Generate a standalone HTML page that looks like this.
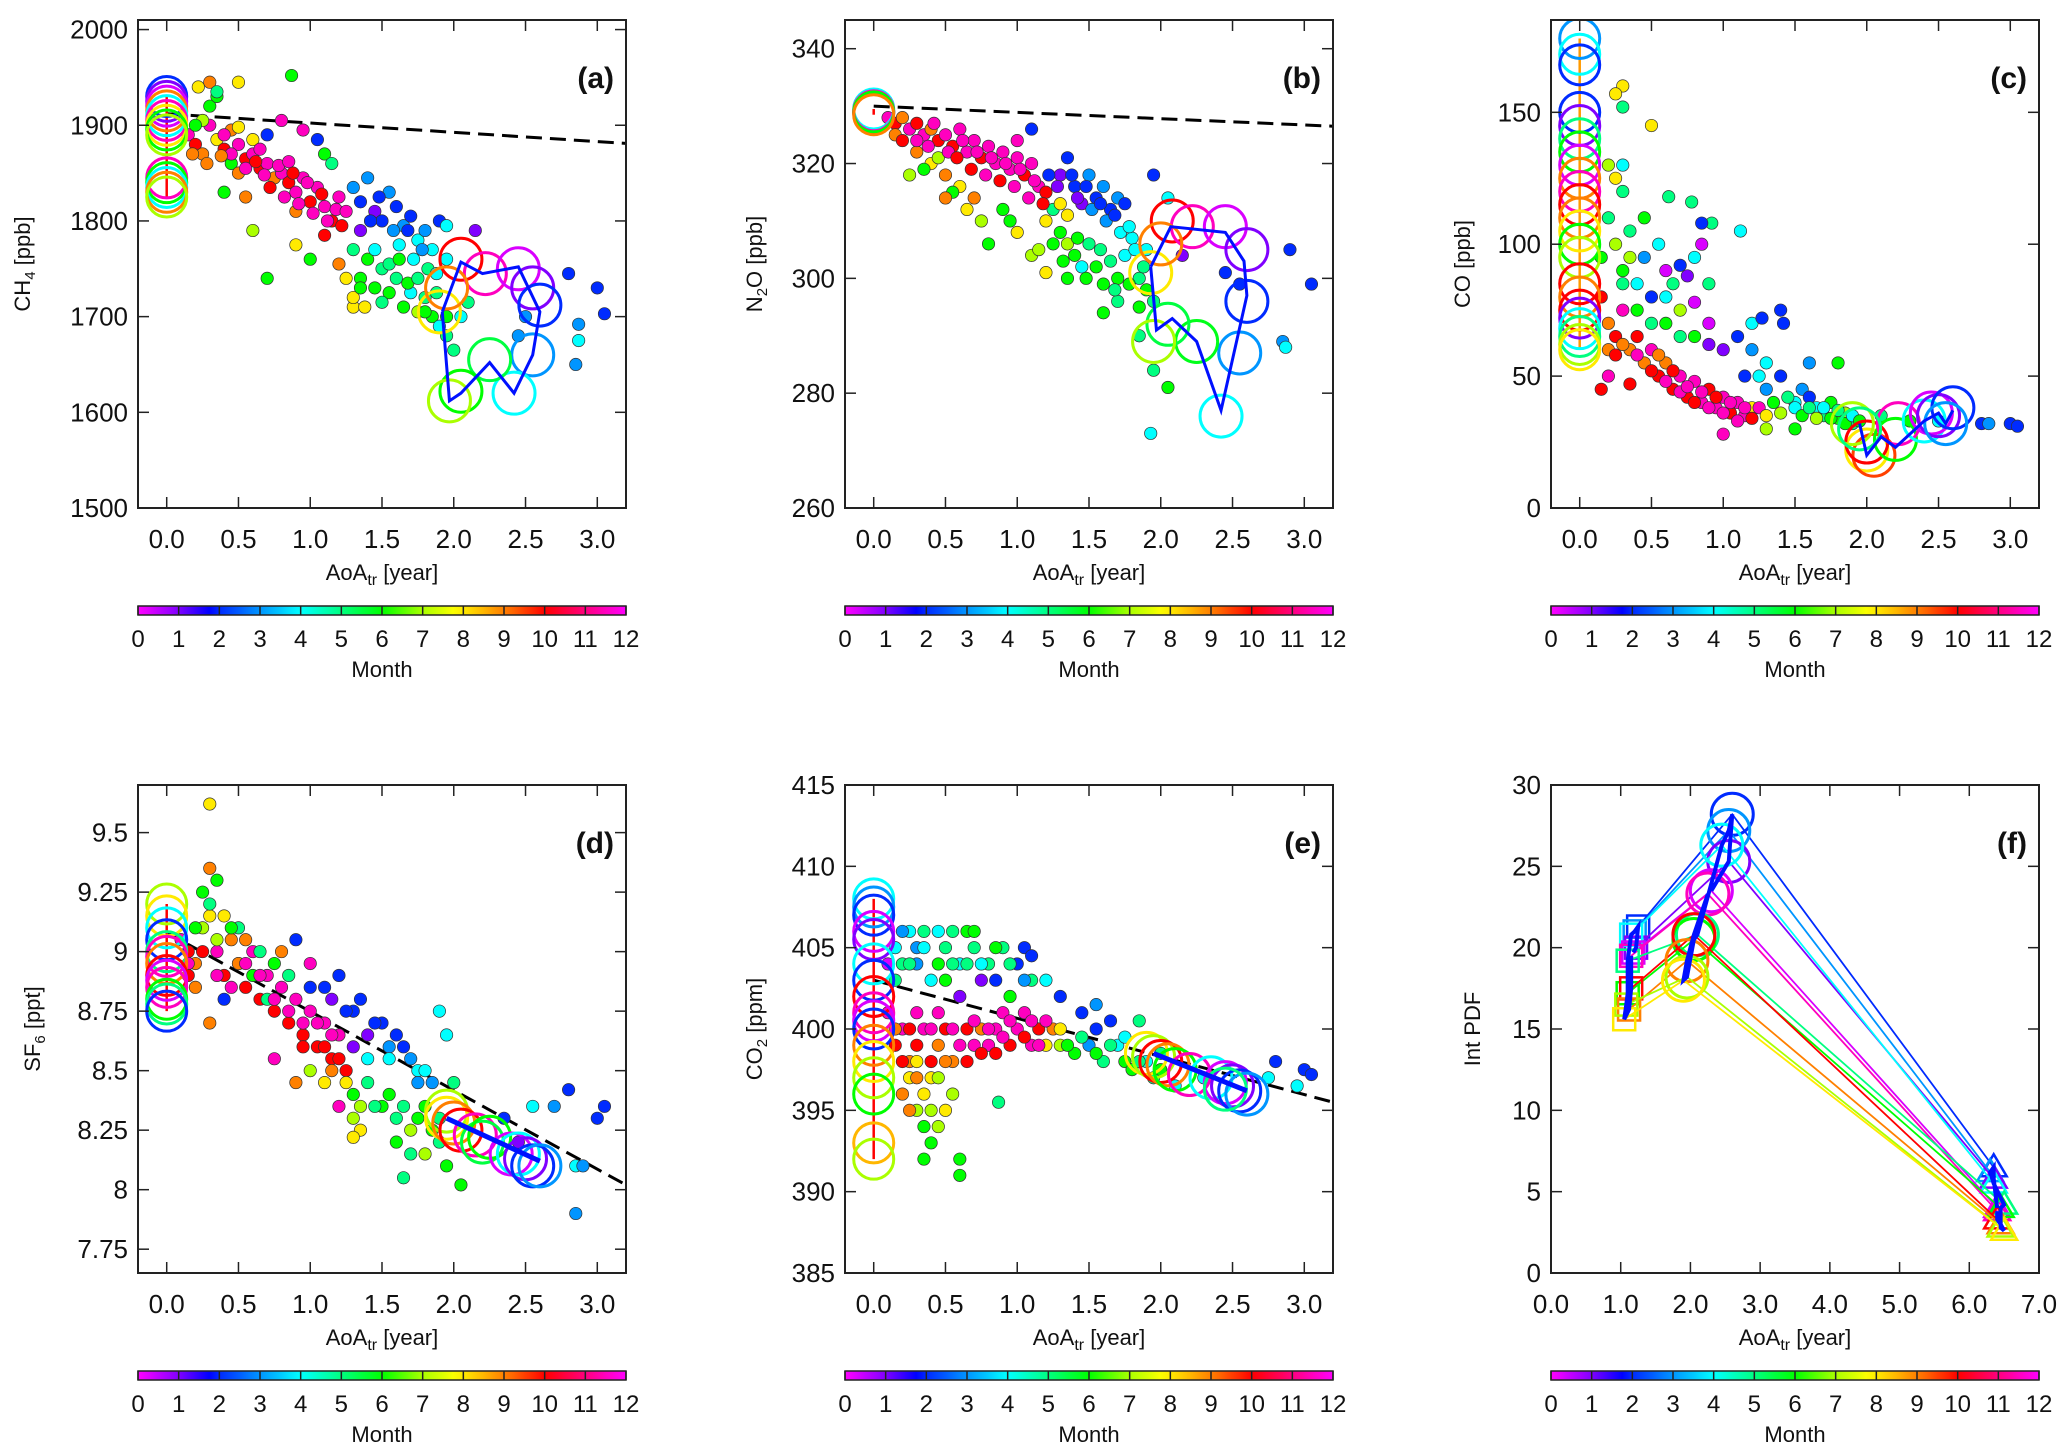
<!DOCTYPE html>
<html><head><meta charset="utf-8"><style>
html,body{margin:0;padding:0;background:#fff;}
svg{display:block;font-family:"Liberation Sans",sans-serif;}
</style></head><body>
<svg id="fig" xmlns="http://www.w3.org/2000/svg" width="2067" height="1455" viewBox="0 0 2067 1455"></svg>
<script>
// ===== DATA =====
const monthTicks=[0,1,2,3,4,5,6,7,8,9,10,11,12];
const aoaTicks=[0,0.5,1,1.5,2,2.5,3];
// panel a CH4
const ticksA=[1500,1600,1700,1800,1900,2000];
const fitA=[[0,1912],[3.2,1881]];
const ptsA=[[0.15,1890,11.5],[0.2,1880,10],[0.25,1870,9],[0.3,1900,11.5],[0.35,1885,8],[0.4,1875,10],[0.3,1920,6],[0.35,1930,6],[0.25,1905,7],[0.45,1895,9],[0.5,1880,11.5],[0.55,1865,10],[0.6,1885,8],[0.45,1860,6],[0.5,1850,9],[0.6,1870,11.5],[0.65,1855,10],[0.7,1860,11.5],[0.75,1845,9],[0.8,1850,11.5],[0.85,1840,10],[0.9,1830,11.5],[0.95,1845,11.5],[1.0,1820,10],[1.05,1835,11.5],[1.1,1815,11.5],[1.15,1800,10],[1.2,1825,11.5],[1.1,1785,10],[0.9,1810,9],[0.7,1890,2],[0.8,1905,11.5],[0.95,1895,11.5],[1.05,1885,2],[1.1,1870,6],[1.15,1860,5],[1.3,1835,3],[1.35,1820,2],[1.4,1845,3],[1.45,1810,1],[1.5,1800,2],[1.55,1830,3],[1.6,1815,2],[1.65,1795,3],[1.7,1805,2],[1.75,1780,4],[1.8,1790,3],[1.85,1770,4],[1.9,1800,2],[1.95,1795,4],[2.15,1790,1],[1.3,1770,5],[1.35,1740,6],[1.25,1740,8],[1.4,1760,6],[1.5,1750,5],[1.55,1725,6],[1.6,1740,5],[1.65,1710,6],[1.7,1725,4],[1.75,1705,7],[1.8,1720,5],[1.85,1700,6],[1.9,1690,4],[1.95,1680,5],[2.0,1665,5],[1.3,1710,8],[1.2,1755,9],[1.0,1760,6],[0.9,1775,8],[0.6,1790,7],[0.55,1825,9],[0.4,1830,6],[0.7,1740,6],[2.05,1700,4],[2.1,1715,5],[2.5,1700,3],[2.45,1680,3],[2.8,1745,2],[3.0,1730,2],[3.05,1703,2],[2.87,1692,3],[2.87,1675,4],[2.85,1650,3],[0.87,1952,6],[0.5,1945,8],[0.3,1945,9],[0.22,1940,8],[0.35,1935,5],[1.3,1720,8],[1.38,1710,8]];
const ptsA2=[[0.45,1870,11.5],[0.55,1855,11.5],[0.62,1862,10],[0.68,1848,11.5],[0.72,1835,10],[0.78,1858,11.5],[0.82,1825,11.5],[0.88,1850,10],[0.92,1818,11.5],[0.98,1840,11.5],[1.02,1808,11.5],[1.08,1828,10],[1.12,1800,11.5],[1.18,1812,11.5],[1.22,1795,10],[1.25,1810,11.5],[0.85,1862,11.5],[0.65,1875,11.5],[0.4,1890,11.5],[0.5,1898,8],[0.2,1900,6],[0.18,1870,9],[0.28,1860,9],[0.38,1868,9],[1.35,1790,1],[1.42,1800,2],[1.48,1825,2],[1.58,1790,3],[1.62,1775,4],[1.68,1790,2],[1.72,1760,4],[1.78,1770,3],[1.82,1750,5],[1.88,1745,4],[1.45,1770,4],[1.55,1755,5],[1.62,1760,6],[1.68,1735,6],[1.75,1740,5],[1.8,1705,6],[1.88,1725,5],[1.45,1730,6],[1.5,1715,5],[1.35,1730,6],[1.95,1760,4],[1.95,1700,6]];
const zeroA=[[1930,2],[1925,1],[1920,0.3],[1915,9],[1910,4],[1905,11.5],[1900,8],[1895,6],[1890,7],[1845,11.5],[1840,6],[1835,4],[1830,9],[1825,7]];
const trajA=[[2.05,1760,10],[2.22,1745,11.5],[2.45,1750,0.3],[2.55,1730,1],[2.6,1712,2],[2.55,1660,3],[2.42,1620,4],[2.25,1655,5.5],[2.05,1622,6],[1.97,1612,7],[1.9,1705,8],[1.95,1730,9]];
const lineA=[[1.92,1705],[2.05,1757],[2.2,1745],[2.45,1752],[2.6,1705],[2.55,1660],[2.42,1620],[2.25,1652],[2.05,1620],[1.97,1612],[1.92,1705]];
// panel b N2O
const ticksB=[260,280,300,320,340];
const fitB=[[0,330],[3.2,326.5]];
const ptsB=[[0.1,328,11.5],[0.15,327,10],[0.2,328,9],[0.25,326,11.5],[0.3,327,10],[0.35,325,11.5],[0.4,326,9],[0.45,324,10],[0.5,325,11.5],[0.55,323,10],[0.6,326,11.5],[0.65,322,11.5],[0.7,324,11.5],[0.75,321,10],[0.8,323,11.5],[0.85,320,11.5],[0.9,322,11.5],[0.95,319,11.5],[1.0,321,11.5],[1.05,318,10],[1.1,320,11.5],[1.15,316,11.5],[1.2,315,10],[1.1,326,2],[1.0,324,11.5],[0.3,322,9],[0.4,320,8],[0.5,318,9],[0.45,321,7],[0.6,316,8],[0.7,314,9],[0.55,315,6],[0.35,319,6],[0.25,318,7],[1.3,318,1],[1.35,321,2],[1.4,316,2],[1.5,318,3],[1.55,314,2],[1.6,316,3],[1.65,312,2],[1.7,314,3],[1.45,313,1],[1.25,312,5],[1.3,308,6],[1.2,310,8],[0.9,312,6],[0.8,306,6],[1.0,308,8],[1.1,304,7],[1.2,301,8],[1.35,306,7],[1.4,304,6],[1.5,306,5],[1.55,302,6],[1.6,299,6],[1.65,303,5],[1.7,300,6],[1.75,304,4],[1.8,307,4],[1.85,300,5],[1.9,298,6],[1.95,296,5],[1.9,305,4],[1.6,294,6],[1.7,296,5],[1.35,300,6],[1.85,290,5],[1.95,284,5],[2.05,281,6],[1.93,273,4],[1.75,313,2],[1.95,318,2],[2.05,314,4],[2.15,304,1],[2.45,301,2],[2.55,299,2],[2.9,305,2],[3.05,299,2],[2.85,289,3],[2.87,288,4],[1.3,313,8],[1.35,311,8],[1.45,302,4]];
const ptsB2=[[0.15,325,9],[0.2,324,10],[0.3,324,11.5],[0.38,323,11.5],[0.42,327,11.5],[0.52,322,11.5],[0.58,321,10],[0.62,324,11.5],[0.68,319,10],[0.72,322,11.5],[0.78,318,11.5],[0.82,321,11.5],[0.88,317,10],[0.92,320,11.5],[0.98,316,11.5],[1.02,319,11.5],[1.08,314,11.5],[1.12,317,11.5],[1.18,313,10],[1.22,318,2],[1.28,316,1],[1.38,318,2],[1.42,314,1],[1.48,316,2],[1.52,312,3],[1.58,313,2],[1.62,310,3],[1.68,311,2],[1.72,308,4],[1.78,309,4],[1.82,305,4],[1.88,302,5],[1.15,305,7],[1.25,306,6],[1.32,303,6],[1.42,307,6],[1.48,300,6],[1.58,305,5],[1.68,298,5],[1.78,299,6],[1.85,295,6],[0.95,310,6],[0.75,310,7],[0.65,312,8],[0.5,314,9]];
const zeroB=[[329.5,4],[329,2],[329,0.3],[328.8,10],[329.2,11.5],[329,6],[328.5,9]];
const trajB=[[2.08,310,10],[2.22,309,11.5],[2.45,309,0.3],[2.6,305,1],[2.6,296,2],[2.55,287,3],[2.42,276,4],[2.25,289,5.8],[2.05,292,5.5],[1.95,289,7],[1.93,301,8],[2.0,306,9]];
const lineB=[[1.93,302],[2.07,309],[2.45,308],[2.58,303],[2.6,297],[2.42,277],[2.25,289],[2.08,293],[1.97,291],[1.93,302]];
// panel c CO
const ticksC=[0,50,100,150];
const ptsC=[[0.15,80,10],[0.2,70,9],[0.25,65,10],[0.3,75,11.5],[0.35,60,9],[0.15,95,6],[0.2,110,5],[0.25,100,7],[0.3,90,6],[0.35,105,5],[0.4,85,4],[0.45,95,3],[0.5,80,2],[0.3,120,5],[0.25,125,8],[0.2,130,7],[0.3,130,4],[0.55,100,4],[0.6,90,0.3],[0.65,85,5],[0.7,92,2],[0.75,88,1],[0.8,95,4],[0.85,100,0.3],[0.9,85,5],[0.62,118,5],[0.78,116,5],[0.92,108,5],[0.85,108,2],[0.4,65,10],[0.45,55,9],[0.5,60,11.5],[0.55,50,10],[0.6,55,9],[0.65,45,10],[0.7,50,11.5],[0.75,42,10],[0.8,48,11.5],[0.85,40,11.5],[0.9,45,10],[0.95,38,11.5],[1.0,42,11.5],[1.05,36,10],[1.1,40,11.5],[1.15,35,11.5],[1.2,38,8],[0.6,70,6],[0.7,75,7],[0.8,65,6],[0.9,70,0.3],[1.0,60,1],[1.1,65,2],[1.2,60,3],[1.25,50,4],[1.3,45,3],[1.4,50,2],[1.5,40,4],[1.55,45,3],[1.6,42,2],[1.65,38,4],[1.7,35,5],[1.75,40,6],[1.8,34,6],[1.85,36,7],[1.9,32,5],[1.2,70,4],[1.27,72,2],[1.4,75,2],[1.42,70,2],[1.8,55,6],[1.0,28,11.5],[1.3,30,7],[1.5,30,6],[2.1,35,5],[2.3,33,6],[2.5,33,4],[2.8,32,2],[2.85,32,3],[3.0,32,2],[3.05,31,2],[0.3,160,8],[0.25,157,8],[0.3,152,5],[0.5,145,8],[0.35,47,10],[0.15,45,10],[1.12,105,4],[0.2,50,11.5]];
const ptsC2=[[0.2,60,9],[0.25,58,10],[0.3,62,9],[0.4,58,11.5],[0.5,52,10],[0.55,58,9],[0.6,48,11.5],[0.65,52,10],[0.7,44,11.5],[0.75,46,11.5],[0.8,40,10],[0.85,44,11.5],[0.9,38,11.5],[0.95,42,10],[1.0,36,11.5],[1.05,40,11.5],[1.1,33,11.5],[1.15,38,11.5],[1.2,34,10],[1.25,38,11.5],[1.3,35,8],[1.35,40,6],[1.4,36,7],[1.45,42,5],[1.5,38,4],[1.55,35,6],[1.6,38,5],[1.65,34,7],[1.7,38,4],[1.75,34,6],[1.8,37,5],[1.85,32,6],[1.9,35,4],[1.95,33,6],[0.4,75,6],[0.5,70,5],[0.6,80,4],[0.7,65,5],[0.8,78,0.3],[0.9,62,1],[0.3,85,5],[0.45,110,6],[0.35,95,7],[1.3,55,4],[1.6,55,3],[1.15,50,2]];
const zeroC=[[178,3],[172,4],[168,2],[150,2],[145,1],[140,5],[135,6],[130,0.3],[125,9],[120,11.5],[115,10],[110,9],[105,8],[100,6],[95,7],[85,10],[80,9],[75,10],[72,1],[68,4],[65,5],[62,7],[60,8]];
const trajC=[[2.0,22,8],[2.05,20,9.5],[2.0,25,10],[2.2,26,6],[2.22,32,11.5],[2.4,33,4],[2.45,36,0.3],[2.5,35,1],[2.6,38,2],[2.55,32,3],[1.9,32,7],[1.95,30,5]];
const lineC=[[1.95,32],[2.0,20],[2.1,27],[2.2,23],[2.4,33],[2.5,36],[2.55,32],[2.6,37]];
// panel d SF6
const ticksD=[7.75,8,8.25,8.5,8.75,9,9.25,9.5];
const labelsD=["7.75","8","8.25","8.5","8.75","9","9.25","9.5"];
const fitD=[[0,9.08],[3.2,8.02]];
const ptsD=[[0.1,9.05,11.5],[0.15,9.0,10],[0.2,8.95,9],[0.25,9.1,7],[0.3,9.15,8],[0.35,9.0,11.5],[0.4,8.9,10],[0.45,9.05,9],[0.5,8.95,11.5],[0.55,8.85,10],[0.6,9.0,11.5],[0.65,8.8,10],[0.7,8.9,11.5],[0.75,8.75,10],[0.8,8.85,11.5],[0.85,8.7,10],[0.9,8.8,11.5],[0.95,8.65,10],[1.0,8.75,11.5],[1.05,8.6,10],[1.1,8.7,11.5],[1.15,8.55,10],[1.2,8.65,11.5],[1.25,8.5,10],[0.3,9.2,5],[0.25,9.25,6],[0.35,9.3,6],[0.3,9.35,9],[0.3,9.62,8],[0.2,9.1,6],[0.5,9.1,5],[0.6,8.9,6],[0.7,8.8,5],[0.8,9.0,9],[0.9,9.05,2],[1.0,8.95,11.5],[1.1,8.85,2],[1.2,8.9,2],[1.3,8.75,2],[1.35,8.8,2],[1.4,8.65,1],[1.5,8.7,2],[1.55,8.6,3],[1.6,8.65,2],[1.7,8.55,3],[1.75,8.5,4],[1.85,8.45,3],[1.9,8.75,4],[1.95,8.65,4],[2.0,8.45,5],[1.3,8.4,6],[1.4,8.45,5],[1.5,8.35,6],[1.6,8.3,5],[1.7,8.25,7],[1.8,8.35,6],[1.9,8.2,5],[1.95,8.1,6],[2.05,8.02,6],[1.65,8.05,5],[1.35,8.25,8],[1.3,8.3,7],[1.1,8.45,8],[1.0,8.5,7],[0.9,8.45,9],[0.75,8.55,11.5],[0.5,8.95,9],[0.3,8.7,9],[0.4,8.8,2],[1.2,8.35,11.5],[2.35,8.3,2],[2.45,8.2,1],[2.55,8.35,4],[2.7,8.35,3],[2.8,8.42,2],[2.85,8.1,4],[2.9,8.1,3],[3.05,8.35,2],[3.0,8.3,2],[2.85,7.9,3],[1.3,8.22,8]];
const ptsD2=[[0.15,8.95,11.5],[0.25,9.0,10],[0.35,8.9,11.5],[0.45,8.85,11.5],[0.55,8.95,11.5],[0.65,8.9,11.5],[0.75,8.8,11.5],[0.85,8.75,11.5],[0.95,8.7,11.5],[1.05,8.7,11.5],[1.1,8.6,10],[1.15,8.65,11.5],[1.2,8.55,10],[0.55,9.05,9],[0.45,9.1,6],[0.65,9.0,5],[0.75,8.95,6],[0.85,8.9,5],[1.0,8.85,2],[1.15,8.8,1],[1.25,8.75,2],[1.45,8.7,2],[1.55,8.55,4],[1.65,8.6,2],[1.75,8.45,3],[1.8,8.5,4],[1.4,8.55,4],[1.3,8.6,1],[1.45,8.35,5],[1.55,8.4,6],[1.65,8.35,5],[1.75,8.3,6],[1.85,8.25,6],[1.9,8.3,5],[1.6,8.2,6],[1.7,8.15,5],[1.8,8.15,7],[1.35,8.35,7],[1.25,8.45,8],[1.15,8.5,9],[0.95,8.6,10],[0.4,9.15,8],[0.35,9.05,7],[0.2,8.85,9],[0.15,8.9,10]];
const zeroD=[[9.2,7],[9.15,8],[9.1,4],[9.05,2],[9.0,5],[8.98,11.5],[8.95,9],[8.9,10],[8.88,0.3],[8.85,11.5],[8.8,6],[8.78,5],[8.75,2]];
const trajD=[[1.95,8.33,7],[1.95,8.3,8],[2.0,8.28,9],[2.05,8.25,10],[2.15,8.23,11.5],[2.2,8.2,5.5],[2.25,8.22,6],[2.4,8.15,0.3],[2.45,8.15,4],[2.5,8.13,1],[2.55,8.1,2],[2.6,8.1,3]];
const lineD=[[1.95,8.3],[2.6,8.12]];
// panel e CO2
const ticksE=[385,390,395,400,405,410,415];
const fitE=[[0,403],[3.2,395.5]];
const ptsE=[[0.1,404,0.3],[0.15,405,4],[0.2,404,5],[0.25,406,4],[0.3,405,3],[0.35,406,5],[0.3,404,3],[0.4,403,4],[0.45,404,6],[0.5,405,5],[0.55,406,5],[0.6,404,4],[0.65,406,6],[0.7,405,5],[0.75,403,1],[0.8,404,5],[0.85,403,2],[0.9,405,5],[0.95,402,6],[1.0,404,2],[1.05,405,2],[1.1,403,5],[0.6,402,1],[0.1,401,11.5],[0.15,399,10],[0.2,400,11.5],[0.25,398,9],[0.3,399,10],[0.35,400,11.5],[0.4,398,10],[0.45,399,9],[0.5,400,10],[0.55,398,9],[0.6,399,11.5],[0.65,400,10],[0.7,399,11.5],[0.75,400,9],[0.8,399,11.5],[0.85,400,11.5],[0.9,401,11.5],[0.95,399,10],[1.0,400,11.5],[1.05,401,11.5],[1.1,399,11.5],[1.15,400,10],[1.2,399,8],[1.25,400,9],[0.2,396,9],[0.25,397,8],[0.3,395,7],[0.35,394,6],[0.4,393,6],[0.35,392,6],[0.45,394,7],[0.5,395,8],[0.55,396,7],[0.6,392,6],[0.6,391,6],[0.25,395,9],[0.87,395.5,5],[0.4,397,8],[0.3,398,8],[1.3,399,7],[1.4,398.5,6],[1.5,399,3],[1.55,400,2],[1.6,398,5],[1.7,399,4],[1.75,398,6],[1.8,397.5,6],[1.9,398,4],[1.95,397,5],[2.0,397.5,6],[2.1,396.5,4],[1.45,401,2],[1.55,401.5,3],[1.65,400.5,2],[1.3,402,2],[1.2,403,4],[1.85,400.5,5],[2.3,397,4],[2.8,398,2],[2.75,397,4],[3.0,397.5,2],[3.05,397.2,2],[2.95,396.5,4]];
const ptsE2=[[0.15,403,5],[0.2,406,3],[0.25,404,5],[0.35,405,4],[0.45,406,4],[0.5,403,6],[0.55,404,5],[0.65,404,5],[0.7,406,6],[0.75,404,4],[0.85,405,6],[0.95,404,5],[1.05,403,3],[1.1,404.5,2],[0.15,400,9],[0.2,398,10],[0.25,400,10],[0.3,401,11.5],[0.4,400,11.5],[0.45,401,11.5],[0.5,398,9],[0.55,400,11.5],[0.65,398,10],[0.7,400.5,11.5],[0.75,398.5,10],[0.8,400,11.5],[0.85,398.5,10],[0.9,399.5,11.5],[0.95,400.5,11.5],[1.05,399.5,10],[1.1,400.5,11.5],[1.15,399,11.5],[1.2,400.5,11.5],[1.3,400,8],[1.35,399,6],[1.45,399.5,5],[1.55,398.5,6],[1.65,399,5],[1.75,399.5,4],[1.85,398,5],[2.0,398.5,5],[0.3,397,9],[0.35,396,8],[0.45,397,7],[0.4,395,7]];
const zeroE=[[408,4],[407.5,3],[407,2],[406,0.3],[405.5,1],[404,4],[403,2],[402,10],[401,11.5],[400.5,0.3],[400,2],[399,9],[398,8],[397,7],[396,6],[393,8.5],[392,7]];
const trajE=[[1.9,398.5,8],[1.95,398.3,7],[2.0,398,10],[2.05,397.8,9],[2.1,397.5,6],[2.2,397.2,11.5],[2.35,397,4],[2.45,396.7,0.3],[2.5,396.5,1],[2.55,396.2,2],[2.6,396,3],[2.45,396.3,5]];
const lineE=[[1.95,398.5],[2.6,396.2]];
// panel f Int PDF
const monthsF=[2,3,1,4,0.3,11.5,5,6,10,9,7,8];
const sqXF=[1.25,1.2,1.22,1.15,1.18,1.15,1.1,1.1,1.15,1.12,1.08,1.05];
const sqYF=[21.3,21,20,20.8,19.7,19.5,19.2,17.2,17.5,16.2,16.5,15.6];
const ciXF=[2.6,2.55,2.55,2.45,2.3,2.25,2.1,2.05,2.05,1.95,1.95,1.9];
const ciYF=[28.2,27.2,25.3,26.3,23.5,23.3,20.8,20.5,20.8,19.2,18.2,18];
const trXF=[6.35,6.3,6.35,6.35,6.4,6.4,6.5,6.45,6.4,6.45,6.45,6.5];
const trYF=[6.5,6.2,5.8,5.5,4.0,3.8,4.2,4.0,3.3,3.0,2.8,2.6];
const ticksFy=[0,5,10,15,20,25,30];
const ticksFx=[0,1,2,3,4,5,6,7];

// ===== HELPERS =====
const NS="http://www.w3.org/2000/svg";
const svg=document.getElementById('fig');
function mk(tag,attrs,parent){const e=document.createElementNS(NS,tag);for(const k in attrs)e.setAttribute(k,attrs[k]);(parent||svg).appendChild(e);return e;}
const hueAnch=[300,270,230,205,180,150,120,80,55,30,0,-30,-60];
function mcol(m){m=Math.max(0,Math.min(12,m));const i=Math.min(11,Math.floor(m));const f=m-i;let h=hueAnch[i]+(hueAnch[i+1]-hueAnch[i])*f;h=((h%360)+360)%360;return `hsl(${h.toFixed(0)},100%,50%)`;}

function panel(o){
  const g=mk('g',{});
  
  
  const L=o.L,T=o.T,W=488,H=488;
  const sx=v=>L+(v-o.x0)/(o.x1-o.x0)*W;
  const sy=v=>T+H-(v-o.y0)/(o.y1-o.y0)*H;
  const cid='clip'+o.id;
  const cp=mk('clipPath',{id:cid},g);mk('rect',{x:L,y:T,width:W,height:H},cp);
  const plot=mk('g',{'clip-path':`url(#${cid})`},g);
  
  
  if(o.fit){const l=mk('line',{x1:sx(o.fit[0][0]),y1:sy(o.fit[0][1]),x2:sx(o.fit[1][0]),y2:sy(o.fit[1][1]),stroke:'#000','stroke-width':3,'stroke-dasharray':'16,8'},plot);
    }
  if(o.pts){o.pts.forEach(p=>{const c=mk('circle',{cx:sx(p[0]),cy:sy(p[1]),r:6.2,fill:mcol(p[2]),stroke:'#333','stroke-width':0.7},plot);
    });}
  if(o.zero){const ys=o.zero.map(z=>z[0]);
    const vl=mk('line',{x1:sx(0),x2:sx(0),y1:sy(Math.min(...ys)),y2:sy(Math.max(...ys)),stroke:o.vcol||'red','stroke-width':2.5},plot);
    
    o.zero.forEach(z=>{const c=mk('circle',{cx:sx(0),cy:sy(z[0]),r:20,fill:'none',stroke:mcol(z[1]),'stroke-width':3},plot);
    });}
  if(o.traj){o.traj.forEach(z=>{const c=mk('circle',{cx:sx(z[0]),cy:sy(z[1]),r:21,fill:'none',stroke:mcol(z[2]),'stroke-width':3},plot);
    });}
  if(o.line){const pl=mk('polyline',{points:o.line.map(p=>sx(p[0])+','+sy(p[1])).join(' '),fill:'none',stroke:'#0010ff','stroke-width':o.lw||3,'stroke-linejoin':'miter'},plot);
    }
  if(o.custom)o.custom(plot,sx,sy);
  const fr=mk('rect',{x:L,y:T,width:W,height:H,fill:'none',stroke:'#222','stroke-width':2},g);
  
  o.xt.forEach((v,i)=>{const x=sx(v);
    mk('line',{x1:x,x2:x,y1:T+H,y2:T+H-11,stroke:'#222','stroke-width':1.5},g);
    mk('line',{x1:x,x2:x,y1:T,y2:T+11,stroke:'#222','stroke-width':1.5},g);
    const t=mk('text',{x:x,y:T+H+40,'font-size':26,'text-anchor':'middle',fill:'#111'},g);t.textContent=o.xl?o.xl[i]:v.toFixed(1);
    });
  o.yt.forEach((v,i)=>{const y=sy(v);
    mk('line',{x1:L,x2:L+11,y1:y,y2:y,stroke:'#222','stroke-width':1.5},g);
    mk('line',{x1:L+W,x2:L+W-11,y1:y,y2:y,stroke:'#222','stroke-width':1.5},g);
    const t=mk('text',{x:L-10,y:y+9,'font-size':26,'text-anchor':'end',fill:'#111'},g);t.textContent=o.yl?o.yl[i]:String(v);
    });
  const xt=mk('text',{x:L+W/2,y:T+H+72,'font-size':22,'text-anchor':'middle',fill:'#111'},g);
  xt.innerHTML='AoA<tspan font-size="16" dy="5">tr</tspan><tspan dy="-5"> [year]</tspan>';
  
  const yt=mk('text',{x:0,y:0,'font-size':22,'text-anchor':'middle',fill:'#111',transform:`translate(${o.ytx},${T+H/2}) rotate(-90)`},g);
  yt.innerHTML=o.ytitle;
  
  const pl=mk('text',{x:L+W-12,y:T+68,'font-size':30,'font-weight':'bold','text-anchor':'end',fill:'#111'},g);
  pl.textContent=o.label;
  const cb=mk('g',{},g);
  const cy=T+H+98;
  mk('rect',{x:L,y:cy,width:W,height:9,fill:'url(#cbgrad)',stroke:'#222','stroke-width':1.5},cb);
  monthTicks.forEach(m=>{const x=L+m/12*W;mk('line',{x1:x,x2:x,y1:cy,y2:cy+9,stroke:'#222','stroke-width':1.5},cb);
    const t=mk('text',{x:x,y:cy+41,'font-size':24,'text-anchor':'middle',fill:'#111'},cb);t.textContent=m;
    });
  const mt=mk('text',{x:L+W/2,y:cy+71,'font-size':22,'text-anchor':'middle',fill:'#111'},cb);mt.textContent='Month';
  
}
const defs=mk('defs',{});
const gr=mk('linearGradient',{id:'cbgrad',x1:0,x2:1,y1:0,y2:0},defs);
for(let i=0;i<=48;i++){const m=i/4;mk('stop',{offset:(m/12),'stop-color':mcol(m)},gr);}

const colL=[138,845,1551],rowT=[20,785];
const xr={x0:-0.2,x1:3.2,xt:aoaTicks};
panel(Object.assign({id:'a',name:'panel-a-ch4',L:colL[0],T:rowT[0],y0:1500,y1:2010,yt:ticksA,fit:fitA,pts:ptsA.concat(ptsA2),zero:zeroA,traj:trajA,line:lineA,label:'(a)',ytx:30,ytitle:'CH<tspan font-size="15" dy="5">4</tspan><tspan dy="-5"> [ppb]</tspan>'},xr));
panel(Object.assign({id:'b',name:'panel-b-n2o',L:colL[1],T:rowT[0],y0:260,y1:345,yt:ticksB,fit:fitB,pts:ptsB.concat(ptsB2),zero:zeroB,traj:trajB,line:lineB,label:'(b)',ytx:762,ytitle:'N<tspan font-size="15" dy="5">2</tspan><tspan dy="-5">O [ppb]</tspan>'},xr));
panel(Object.assign({id:'c',name:'panel-c-co',L:colL[2],T:rowT[0],y0:0,y1:185,yt:ticksC,pts:ptsC.concat(ptsC2),zero:zeroC,vcol:'#ff9900',traj:trajC,line:lineC,label:'(c)',ytx:1470,ytitle:'CO [ppb]'},xr));
panel(Object.assign({id:'d',name:'panel-d-sf6',L:colL[0],T:rowT[1],y0:7.65,y1:9.7,yt:ticksD,yl:labelsD,fit:fitD,pts:ptsD.concat(ptsD2),zero:zeroD,traj:trajD,line:lineD,lw:5,label:'(d)',ytx:40,ytitle:'SF<tspan font-size="15" dy="5">6</tspan><tspan dy="-5"> [ppt]</tspan>'},xr));
panel(Object.assign({id:'e',name:'panel-e-co2',L:colL[1],T:rowT[1],y0:385,y1:415,yt:ticksE,fit:fitE,pts:ptsE.concat(ptsE2),zero:zeroE,traj:trajE,line:lineE,lw:5,label:'(e)',ytx:762,ytitle:'CO<tspan font-size="15" dy="5">2</tspan><tspan dy="-5"> [ppm]</tspan>'},xr));
panel({id:'f',name:'panel-f-int-pdf',L:colL[2],T:rowT[1],x0:0,x1:7,xt:ticksFx,y0:0,y1:30,yt:ticksFy,label:'(f)',ytx:1480,ytitle:'Int PDF',
  custom:(p,sx,sy)=>{
    monthsF.forEach((m,i)=>{const c=mcol(m);
      const pl=mk('polyline',{points:`${sx(sqXF[i])},${sy(sqYF[i])} ${sx(ciXF[i])},${sy(ciYF[i])} ${sx(trXF[i])},${sy(trYF[i])}`,fill:'none',stroke:c,'stroke-width':1.8},p);
      
      const s=mk('rect',{x:sx(sqXF[i])-11,y:sy(sqYF[i])-11,width:22,height:22,fill:'none',stroke:c,'stroke-width':2.5},p);
      
      const ci=mk('circle',{cx:sx(ciXF[i]),cy:sy(ciYF[i]),r:21,fill:'none',stroke:c,'stroke-width':3},p);
      
      const tx=sx(trXF[i]),ty=sy(trYF[i]);
      const tr=mk('polygon',{points:`${tx},${ty-13} ${tx-13},${ty+9} ${tx+13},${ty+9}`,fill:'none',stroke:c,'stroke-width':2.5},p);
      
    });
    const order=monthsF.map((m,i)=>i).sort((a,b)=>monthsF[a]-monthsF[b]);
    [[sqXF,sqYF],[ciXF,ciYF],[trXF,trYF]].forEach(([X,Y])=>{
      const bl=mk('polyline',{points:order.map(i=>sx(X[i])+','+sy(Y[i])).join(' '),fill:'none',stroke:'#0010ff','stroke-width':4},p);
      });
  }});
</script>
</body></html>
